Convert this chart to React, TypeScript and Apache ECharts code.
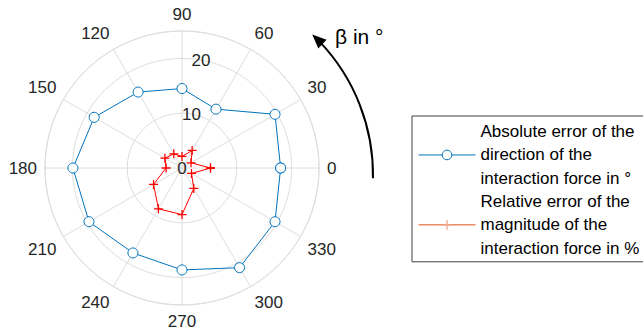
import React, { useEffect, useRef } from "react";
import * as echarts from "echarts";

const FONT = "'Liberation Sans', Arial, Helvetica, sans-serif";

// Angles (β in °) at which both quantities were evaluated
const angles = [0, 30, 60, 90, 120, 150, 180, 210, 240, 270, 300, 330];
// Absolute error of the direction of the interaction force in °
const absDirectionError = [18.0, 19.6, 12.4, 14.5, 16.0, 18.5, 19.9, 19.6, 17.9, 18.6, 21.0, 19.6];
// Relative error of the magnitude of the interaction force in %
const relMagnitudeError = [5.2, 1.9, 3.7, 2.1, 3.0, 3.6, 2.9, 6.0, 8.6, 8.5, 4.3, 2.0];

const radiusMin = 0;
const radiusMax = 25;
const radiusInterval = 10;
const angleInterval = 30;

const seriesNames = [
  "Absolute error of the\ndirection of the\ninteraction force in °",
  "Relative error of the\nmagnitude of the\ninteraction force in %",
];

const CX = 182;
const CY = 168;
const R = 137;

function closedLoop(values: number[]) {
  const pts = angles.map((a, i) => [values[i], a]);
  pts.push([values[0], 360]);
  return pts;
}

function arrowGraphics() {
  const acx = 180;
  const acy = 175;
  const ar = 193;
  const tipAngle = -0.816;
  const endAngle = 0.017;
  const headLen = 14;
  const headHalf = 6;
  const tip = [acx + ar * Math.cos(tipAngle), acy + ar * Math.sin(tipAngle)];
  const dir = [Math.sin(tipAngle), -Math.cos(tipAngle)];
  const base = [tip[0] - headLen * dir[0], tip[1] - headLen * dir[1]];
  const perp = [-dir[1], dir[0]];
  return [
    {
      type: "arc",
      shape: { cx: acx, cy: acy, r: ar, startAngle: tipAngle + (headLen - 3) / ar, endAngle, clockwise: true },
      style: { stroke: "#000", lineWidth: 2, fill: "none" },
      silent: true,
    },
    {
      type: "polygon",
      shape: {
        points: [
          tip,
          [base[0] + headHalf * perp[0], base[1] + headHalf * perp[1]],
          [base[0] - headHalf * perp[0], base[1] - headHalf * perp[1]],
        ],
      },
      style: { fill: "#000" },
      silent: true,
    },
    {
      type: "text",
      x: 335,
      y: 36,
      style: {
        text: "β in °",
        fontSize: 21,
        fontFamily: FONT,
        fill: "#000",
        verticalAlign: "middle",
        align: "left",
      },
      silent: true,
    },
  ];
}

const CROSS = "path://M4.3,0H5.7V4.3H10V5.7H5.7V10H4.3V5.7H0V4.3H4.3Z";

export default function App() {
  const ref = useRef<HTMLDivElement>(null);

  useEffect(() => {
    document.body.style.margin = "0";
    const chart = echarts.init(ref.current!, null, { renderer: "svg" });
    const grid = "#dedede";
    chart.setOption({
      animation: false,
      backgroundColor: "#fff",
      textStyle: { fontFamily: FONT },
      polar: [
        { center: [CX, CY], radius: R },
        { center: [CX, CY], radius: R },
      ],
      angleAxis: [
        {
          polarIndex: 0,
          type: "value",
          min: 0,
          max: 360,
          interval: angleInterval,
          startAngle: 0,
          clockwise: false,
          axisLine: { show: true, lineStyle: { color: grid, width: 1 } },
          axisTick: { show: false },
          splitLine: { show: true, lineStyle: { color: grid, width: 1 } },
          axisLabel: {
            color: "#262626",
            fontSize: 17,
            fontFamily: FONT,
            margin: 8,
            formatter: (v: number) => (v === 360 ? "" : String(v)),
          },
        },
        {
          polarIndex: 1,
          type: "value",
          min: 0,
          max: 360,
          startAngle: 80,
          clockwise: false,
          show: false,
        },
      ],
      radiusAxis: [
        {
          polarIndex: 0,
          type: "value",
          min: radiusMin,
          max: radiusMax,
          interval: radiusInterval,
          axisLine: { show: false },
          axisTick: { show: false },
          axisLabel: { show: false },
          splitLine: { show: true, lineStyle: { color: grid, width: 1 } },
        },
        {
          polarIndex: 1,
          type: "value",
          min: radiusMin,
          max: radiusMax,
          interval: radiusInterval,
          axisLine: { show: false },
          axisTick: { show: false },
          splitLine: { show: false },
          axisLabel: {
            show: true,
            color: "#262626",
            fontSize: 17,
            fontFamily: FONT,
            margin: 0,
            align: "center",
            verticalAlign: "middle",
            showMaxLabel: false,
          },
        },
      ],
      legend: {
        orient: "vertical",
        left: 412,
        top: 116,
        padding: [4, 8, 2, 6],
        itemGap: 0,
        itemWidth: 57,
        itemHeight: 12,
        borderColor: "#404040",
        borderWidth: 1,
        backgroundColor: "#fff",
        selectedMode: false,
        textStyle: { fontSize: 17, lineHeight: 23.3, color: "#000", fontFamily: FONT },
        data: [
          {
            name: seriesNames[0],
            itemStyle: { color: "#fff", borderColor: "#0072BD", borderWidth: 1 },
            lineStyle: { color: "#0072BD", width: 1 },
          },
          {
            name: seriesNames[1],
            itemStyle: { color: "#EFA68C", borderWidth: 0 },
            lineStyle: { color: "#D95319", width: 1 },
          },
        ],
      },
      series: [
        {
          name: seriesNames[0],
          type: "line",
          coordinateSystem: "polar",
          polarIndex: 0,
          data: closedLoop(absDirectionError),
          symbol: "circle",
          symbolSize: 10,
          showAllSymbol: true,
          itemStyle: { color: "#fff", borderColor: "#0072BD", borderWidth: 1 },
          lineStyle: { color: "#0072BD", width: 1 },
          silent: true,
          z: 3,
        },
        {
          name: seriesNames[1],
          type: "line",
          coordinateSystem: "polar",
          polarIndex: 0,
          data: closedLoop(relMagnitudeError),
          symbol: CROSS,
          symbolSize: 9,
          showAllSymbol: true,
          itemStyle: { color: "#FF0000" },
          lineStyle: { color: "#FF0000", width: 1 },
          silent: true,
          z: 4,
        },
      ],
      graphic: arrowGraphics(),
    });
    return () => chart.dispose();
  }, []);

  return (
    <div
      ref={ref}
      style={{ position: "fixed", left: 0, top: 0, width: 643, height: 331 }}
    />
  );
}
